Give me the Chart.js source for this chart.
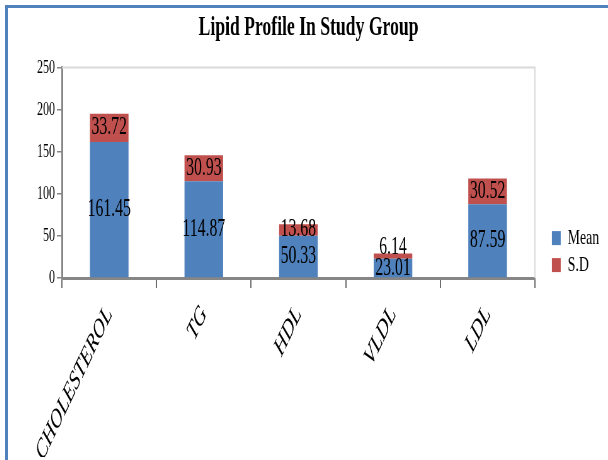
<!DOCTYPE html>
<html>
<head>
<meta charset="utf-8">
<script src="https://cdn.jsdelivr.net/npm/chart.js@4.4.1/dist/chart.umd.min.js"></script>
<style>
  html, body { margin: 0; padding: 0; background: #fff; overflow: hidden; }
  #frame {
    position: absolute; left: 5px; top: 5px; width: 603px; height: 455px;
    border-left: 3px solid #4f81bd; border-top: 3px solid #4f81bd;
  }
  #chart { position: absolute; left: 9px; top: 9px; }
</style>
</head>
<body>
<div id="frame"></div>
<!-- the reference is squeezed sideways, so the canvas is drawn wide and shown narrow -->
<canvas id="chart" width="951" height="451" style="width:599px;height:451px"></canvas>
<script>
// --- Datos ---
const categories = ['CHOLESTEROL', 'TG', 'HDL', 'VLDL', 'LDL'];
const meanValues = [161.45, 114.87, 50.33, 23.01, 87.59];
const sdValues = [33.72, 30.93, 13.68, 6.14, 30.52];
const yMax = 250;
const yStep = 50;

const SERIF = "'Liberation Serif', 'Times New Roman', serif";

// borde gris claro arriba y a la derecha del area del grafico
const plotFrame = {
    id: 'plotFrame',
    beforeDatasetsDraw(chart) {
        const { ctx, chartArea: a } = chart;
        ctx.save();
        ctx.strokeStyle = '#d9d9d9';
        ctx.lineWidth = 2;
        ctx.beginPath();
        ctx.moveTo(a.left, a.top);
        ctx.lineTo(a.right, a.top);
        ctx.lineTo(a.right, a.bottom);
        ctx.stroke();
        ctx.restore();
    }
};

// etiquetas de valor dentro de cada segmento
const segmentLabels = {
    id: 'segmentLabels',
    afterDatasetsDraw(chart) {
        const ctx = chart.ctx;
        ctx.save();
        ctx.font = '25px ' + SERIF;
        ctx.fillStyle = '#000';
        ctx.textAlign = 'center';
        chart.data.datasets.forEach((ds, di) => {
            const meta = chart.getDatasetMeta(di);
            meta.data.forEach((bar, i) => {
                const text = ds.data[i].toFixed(2);
                const h = bar.base - bar.y;
                if (h < 8) {
                    // segmento muy fino: texto encima
                    ctx.textBaseline = 'alphabetic';
                    ctx.fillText(text, bar.x, bar.y + 1);
                } else {
                    ctx.textBaseline = 'middle';
                    ctx.fillText(text, bar.x, (bar.y + bar.base) / 2);
                }
            });
        });
        ctx.restore();
    }
};

const ctx = document.getElementById('chart').getContext('2d');
new Chart(ctx, {
    type: 'bar',
    data: {
        labels: categories,
        datasets: [
            { label: 'Mean', data: meanValues, backgroundColor: '#4f81bd' },
            { label: 'S.D', data: sdValues, backgroundColor: '#c0504d' }
        ]
    },
    options: {
        responsive: false,
        devicePixelRatio: 1,
        animation: false,
        layout: { padding: { left: 4, right: 4, top: 0, bottom: 3 } },
        datasets: { bar: { categoryPercentage: 0.8, barPercentage: 0.51 } },
        scales: {
            x: {
                stacked: true,
                grid: { display: true, drawOnChartArea: false, tickLength: 10, tickColor: '#6d6d6d', lineWidth: 2 },
                border: { color: '#868686', width: 3 },
                ticks: {
                    color: '#000',
                    font: { family: SERIF, size: 27, style: 'italic' },
                    minRotation: 53, maxRotation: 53,
                    padding: 12,
                    autoSkip: false
                },
                afterFit(scale) { scale.height = 179; }
            },
            y: {
                stacked: true,
                min: 0,
                max: yMax,
                grid: { drawOnChartArea: false, tickLength: 8, tickColor: '#868686', lineWidth: 1.5 },
                border: { color: '#868686', width: 3 },
                ticks: {
                    stepSize: yStep,
                    color: '#000',
                    padding: 3,
                    font: { family: SERIF, size: 19 }
                },
                afterFit(scale) { scale.width = 80; }
            },
            // hueco entre el grafico y la leyenda
            gap: {
                type: 'linear',
                position: 'right',
                display: true,
                grid: { display: false },
                border: { display: false },
                ticks: { display: false },
                afterFit(scale) { scale.width = 22; }
            }
        },
        plugins: {
            title: {
                display: true,
                text: 'Lipid Profile In Study Group',
                color: '#000',
                font: { family: SERIF, size: 28, weight: 'bold' },
                padding: { top: 2, bottom: 23 }
            },
            legend: {
                position: 'right',
                align: 'center',
                // titulo vacio: solo baja un poco la leyenda
                title: { display: true, text: '', padding: 0, font: { size: 31 } },
                labels: {
                    boxWidth: 14,
                    boxHeight: 14,
                    padding: 5,
                    color: '#000',
                    font: { family: SERIF, size: 22 }
                }
            },
            tooltip: { enabled: false }
        }
    },
    plugins: [plotFrame, segmentLabels]
});
</script>
</body>
</html>
